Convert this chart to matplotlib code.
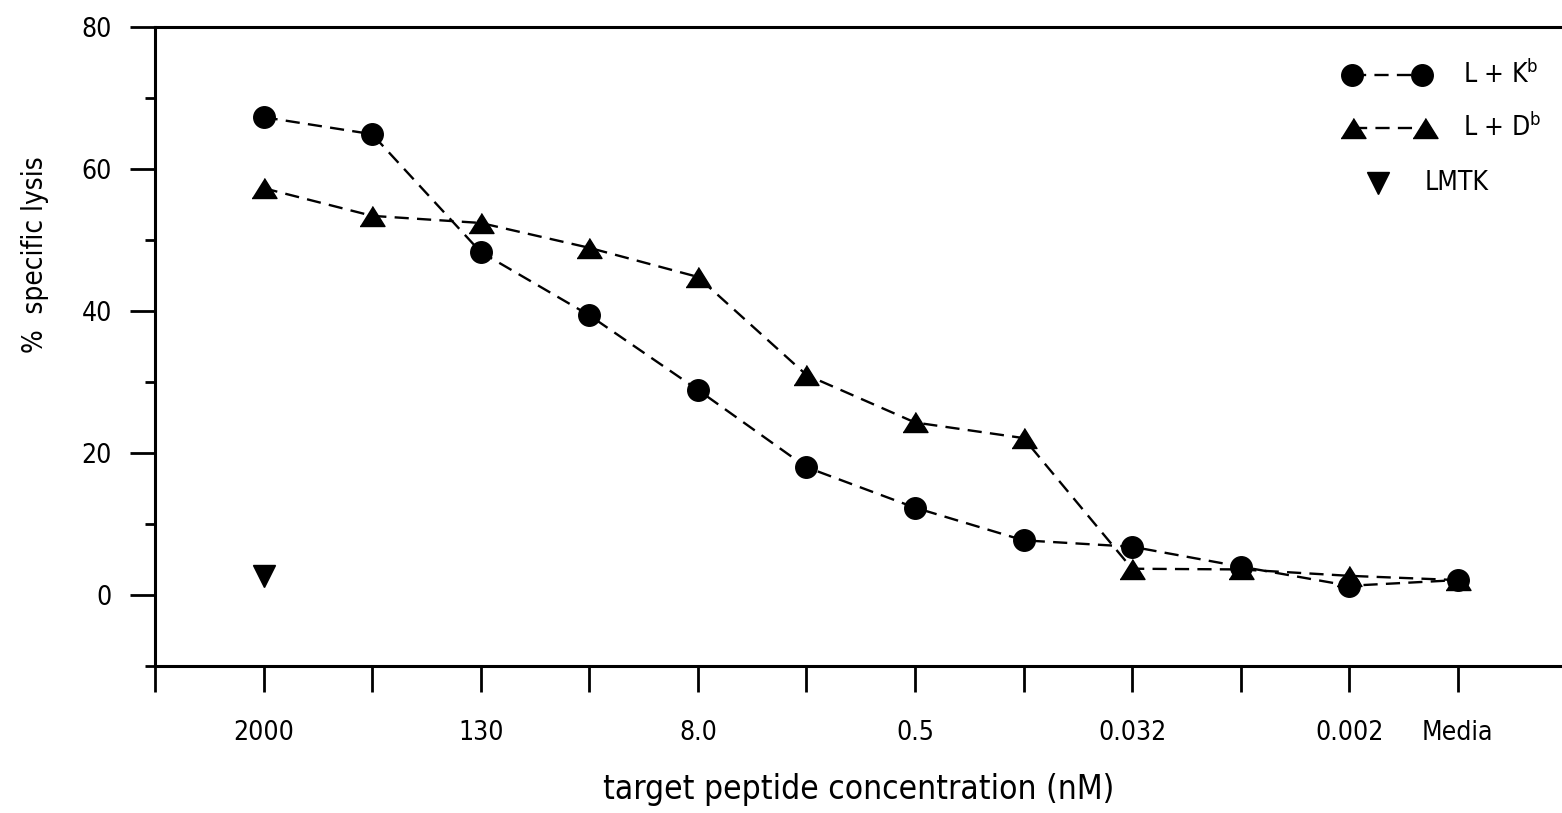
import matplotlib
matplotlib.use("Agg")
import matplotlib.pyplot as plt
from matplotlib.lines import Line2D
from matplotlib.ticker import FixedLocator

# x positions are the dilution steps, labelled every other step
steps = list(range(1, 13))
tick_pos = [1, 3, 5, 7, 9, 11, 12]
tick_labels = ["2000", "130", "8.0", "0.5", "0.032", "0.002", "Media"]

lk_b = [67.3, 64.9, 48.3, 39.4, 28.9, 18.0, 12.3, 7.7, 6.8, 4.0, 1.3, 2.1]
ld_b = [57.3, 53.4, 52.4, 48.9, 44.8, 31.0, 24.3, 22.1, 3.7, 3.6, 2.7, 2.1]
lmtk_x = [1]
lmtk = [2.7]

FONT = dict(family="DejaVu Sans", fontstretch="condensed")
DASH = (0, (6, 3.5))
TRI = [(-1.25, -1), (1.25, -1), (0, 1)]  # flat-ish triangle like the scan

fig = plt.figure(figsize=(15.62, 8.13), dpi=100)
ax = fig.add_axes([155 / 1562, 1 - 666 / 813, 1407 / 1562, 639 / 813])

ax.plot(steps, lk_b, color="black", lw=1.7, ls=DASH, marker="o", ms=15.5,
        clip_on=False)
ax.plot(steps, ld_b, color="black", lw=1.7, ls=DASH, marker=TRI, ms=18,
        clip_on=False)
ax.plot(lmtk_x, lmtk, ls="none", color="black", marker="v", ms=16)

ax.set_xlim(0, 12.96)
ax.set_ylim(-10, 80)

# spines: left, bottom, top only
ax.spines["right"].set_visible(False)
for s in ["left", "bottom", "top"]:
    ax.spines[s].set_linewidth(2.2)

ax.xaxis.set_major_locator(FixedLocator(range(0, 13)))
ax.set_xticklabels([""] * 13)
for p, lab in zip(tick_pos, tick_labels):
    ax.text(p, -0.105, lab, transform=ax.get_xaxis_transform(), ha="center",
            va="center", fontsize=19, **FONT)
ax.tick_params(axis="x", direction="out", length=19, width=2, top=False)

ax.set_yticks([0, 20, 40, 60, 80])
ax.set_yticks([-10, 10, 30, 50, 70], minor=True)
ax.set_yticklabels(["0", "20", "40", "60", "80"], fontsize=19, **FONT)
ax.tick_params(axis="y", which="major", direction="out", length=18, width=2,
               pad=13)
ax.tick_params(axis="y", which="minor", direction="out", length=7, width=2)

ax.set_xlabel("target peptide concentration (nM)", fontsize=24, **FONT)
ax.xaxis.label.set_va("center")
ax.xaxis.set_label_coords(0.5, -0.194)
ax.set_ylabel("%  specific lysis", fontsize=20, **FONT)
ax.yaxis.label.set_va("center")
ax.yaxis.set_label_coords(-0.0853, 0.643)

# hand-built legend in the top right corner
t = ax.transAxes
ax.add_line(Line2D([0.8504, 0.9002], [0.925, 0.925], transform=t, color="black",
                   lw=1.7, ls=DASH, marker="o", ms=15.5))
ax.add_line(Line2D([0.8518, 0.9027], [0.842, 0.842], transform=t, color="black",
                   lw=1.7, ls=DASH, marker=TRI, ms=18))
ax.add_line(Line2D([0.8692], [0.756], transform=t, color="black", ls="none",
                   marker="v", ms=16))
ax.text(0.9297, 0.925, r"L + K$^{\mathregular{b}}$", transform=t, va="center",
        fontsize=19, **FONT)
ax.text(0.9297, 0.842, r"L + D$^{\mathregular{b}}$", transform=t, va="center",
        fontsize=19, **FONT)
ax.text(0.9026, 0.756, "LMTK", transform=t, va="center", fontsize=19, **FONT)

fig.savefig("out.png", dpi=100, facecolor="white")
